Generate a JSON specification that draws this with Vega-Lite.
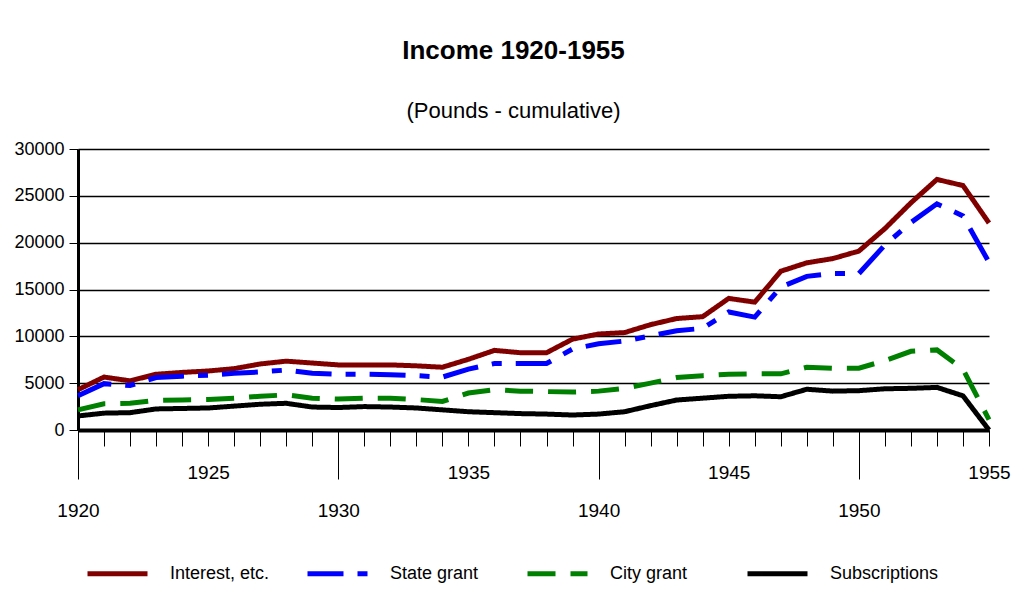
{
  "$schema": "https://vega.github.io/schema/vega-lite/v6.json",
  "width": 911,
  "height": 281,
  "padding": {"left": 13, "top": 38, "right": 20, "bottom": 5},
  "background": "white",
  "title": {
    "text": "Income 1920-1955",
    "subtitle": "(Pounds - cumulative)",
    "font": "Liberation Sans, Arial, sans-serif",
    "fontSize": 26,
    "fontWeight": "bold",
    "subtitleFont": "Liberation Sans, Arial, sans-serif",
    "subtitleFontSize": 22,
    "subtitleColor": "black",
    "subtitlePadding": 37,
    "color": "black",
    "anchor": "middle",
    "dx": -20,
    "offset": 18
  },
  "data": {
    "values": [
      {"year":1920,"series":"Interest, etc.","value":4300},{"year":1921,"series":"Interest, etc.","value":5650},{"year":1922,"series":"Interest, etc.","value":5250},{"year":1923,"series":"Interest, etc.","value":5950},{"year":1924,"series":"Interest, etc.","value":6150},{"year":1925,"series":"Interest, etc.","value":6300},{"year":1926,"series":"Interest, etc.","value":6550},{"year":1927,"series":"Interest, etc.","value":7050},{"year":1928,"series":"Interest, etc.","value":7350},{"year":1929,"series":"Interest, etc.","value":7150},{"year":1930,"series":"Interest, etc.","value":6950},{"year":1931,"series":"Interest, etc.","value":6950},{"year":1932,"series":"Interest, etc.","value":6950},{"year":1933,"series":"Interest, etc.","value":6850},{"year":1934,"series":"Interest, etc.","value":6700},{"year":1935,"series":"Interest, etc.","value":7550},{"year":1936,"series":"Interest, etc.","value":8500},{"year":1937,"series":"Interest, etc.","value":8250},{"year":1938,"series":"Interest, etc.","value":8250},{"year":1939,"series":"Interest, etc.","value":9700},{"year":1940,"series":"Interest, etc.","value":10250},{"year":1941,"series":"Interest, etc.","value":10400},{"year":1942,"series":"Interest, etc.","value":11250},{"year":1943,"series":"Interest, etc.","value":11900},{"year":1944,"series":"Interest, etc.","value":12100},{"year":1945,"series":"Interest, etc.","value":14050},{"year":1946,"series":"Interest, etc.","value":13650},{"year":1947,"series":"Interest, etc.","value":16950},{"year":1948,"series":"Interest, etc.","value":17850},{"year":1949,"series":"Interest, etc.","value":18300},{"year":1950,"series":"Interest, etc.","value":19100},{"year":1951,"series":"Interest, etc.","value":21500},{"year":1952,"series":"Interest, etc.","value":24250},{"year":1953,"series":"Interest, etc.","value":26750},{"year":1954,"series":"Interest, etc.","value":26100},{"year":1955,"series":"Interest, etc.","value":22100},
      {"year":1920,"series":"State grant","value":3650},{"year":1921,"series":"State grant","value":4950},{"year":1922,"series":"State grant","value":4750},{"year":1923,"series":"State grant","value":5600},{"year":1924,"series":"State grant","value":5750},{"year":1925,"series":"State grant","value":5850},{"year":1926,"series":"State grant","value":6050},{"year":1927,"series":"State grant","value":6200},{"year":1928,"series":"State grant","value":6400},{"year":1929,"series":"State grant","value":6050},{"year":1930,"series":"State grant","value":5950},{"year":1931,"series":"State grant","value":5950},{"year":1932,"series":"State grant","value":5900},{"year":1933,"series":"State grant","value":5800},{"year":1934,"series":"State grant","value":5650},{"year":1935,"series":"State grant","value":6500},{"year":1936,"series":"State grant","value":7100},{"year":1937,"series":"State grant","value":7100},{"year":1938,"series":"State grant","value":7100},{"year":1939,"series":"State grant","value":8650},{"year":1940,"series":"State grant","value":9200},{"year":1941,"series":"State grant","value":9500},{"year":1942,"series":"State grant","value":10050},{"year":1943,"series":"State grant","value":10600},{"year":1944,"series":"State grant","value":10850},{"year":1945,"series":"State grant","value":12600},{"year":1946,"series":"State grant","value":12050},{"year":1947,"series":"State grant","value":15250},{"year":1948,"series":"State grant","value":16400},{"year":1949,"series":"State grant","value":16700},{"year":1950,"series":"State grant","value":16700},{"year":1951,"series":"State grant","value":19750},{"year":1952,"series":"State grant","value":22150},{"year":1953,"series":"State grant","value":24150},{"year":1954,"series":"State grant","value":22850},{"year":1955,"series":"State grant","value":17900},
      {"year":1920,"series":"City grant","value":2150},{"year":1921,"series":"City grant","value":2800},{"year":1922,"series":"City grant","value":2850},{"year":1923,"series":"City grant","value":3150},{"year":1924,"series":"City grant","value":3200},{"year":1925,"series":"City grant","value":3250},{"year":1926,"series":"City grant","value":3400},{"year":1927,"series":"City grant","value":3600},{"year":1928,"series":"City grant","value":3750},{"year":1929,"series":"City grant","value":3400},{"year":1930,"series":"City grant","value":3300},{"year":1931,"series":"City grant","value":3400},{"year":1932,"series":"City grant","value":3400},{"year":1933,"series":"City grant","value":3250},{"year":1934,"series":"City grant","value":3050},{"year":1935,"series":"City grant","value":3950},{"year":1936,"series":"City grant","value":4300},{"year":1937,"series":"City grant","value":4150},{"year":1938,"series":"City grant","value":4100},{"year":1939,"series":"City grant","value":4050},{"year":1940,"series":"City grant","value":4150},{"year":1941,"series":"City grant","value":4450},{"year":1942,"series":"City grant","value":5000},{"year":1943,"series":"City grant","value":5600},{"year":1944,"series":"City grant","value":5800},{"year":1945,"series":"City grant","value":5950},{"year":1946,"series":"City grant","value":6000},{"year":1947,"series":"City grant","value":6000},{"year":1948,"series":"City grant","value":6700},{"year":1949,"series":"City grant","value":6600},{"year":1950,"series":"City grant","value":6600},{"year":1951,"series":"City grant","value":7400},{"year":1952,"series":"City grant","value":8400},{"year":1953,"series":"City grant","value":8550},{"year":1954,"series":"City grant","value":6500},{"year":1955,"series":"City grant","value":1100},
      {"year":1920,"series":"Subscriptions","value":1500},{"year":1921,"series":"Subscriptions","value":1800},{"year":1922,"series":"Subscriptions","value":1850},{"year":1923,"series":"Subscriptions","value":2250},{"year":1924,"series":"Subscriptions","value":2300},{"year":1925,"series":"Subscriptions","value":2350},{"year":1926,"series":"Subscriptions","value":2550},{"year":1927,"series":"Subscriptions","value":2750},{"year":1928,"series":"Subscriptions","value":2850},{"year":1929,"series":"Subscriptions","value":2450},{"year":1930,"series":"Subscriptions","value":2400},{"year":1931,"series":"Subscriptions","value":2500},{"year":1932,"series":"Subscriptions","value":2450},{"year":1933,"series":"Subscriptions","value":2350},{"year":1934,"series":"Subscriptions","value":2150},{"year":1935,"series":"Subscriptions","value":1950},{"year":1936,"series":"Subscriptions","value":1850},{"year":1937,"series":"Subscriptions","value":1750},{"year":1938,"series":"Subscriptions","value":1700},{"year":1939,"series":"Subscriptions","value":1600},{"year":1940,"series":"Subscriptions","value":1700},{"year":1941,"series":"Subscriptions","value":1950},{"year":1942,"series":"Subscriptions","value":2600},{"year":1943,"series":"Subscriptions","value":3200},{"year":1944,"series":"Subscriptions","value":3400},{"year":1945,"series":"Subscriptions","value":3600},{"year":1946,"series":"Subscriptions","value":3650},{"year":1947,"series":"Subscriptions","value":3550},{"year":1948,"series":"Subscriptions","value":4350},{"year":1949,"series":"Subscriptions","value":4150},{"year":1950,"series":"Subscriptions","value":4200},{"year":1951,"series":"Subscriptions","value":4400},{"year":1952,"series":"Subscriptions","value":4450},{"year":1953,"series":"Subscriptions","value":4550},{"year":1954,"series":"Subscriptions","value":3650},{"year":1955,"series":"Subscriptions","value":0}
    ]
  },
  "mark": {"type": "line", "strokeWidth": 5, "strokeCap": "butt", "strokeJoin": "miter", "clip": false},
  "encoding": {
    "x": {
      "field": "year",
      "type": "quantitative",
      "scale": {"domain": [1920, 1955], "nice": false, "zero": false},
      "axis": {
        "title": null,
        "values": [1920,1921,1922,1923,1924,1925,1926,1927,1928,1929,1930,1931,1932,1933,1934,1935,1936,1937,1938,1939,1940,1941,1942,1943,1944,1945,1946,1947,1948,1949,1950,1951,1952,1953,1954,1955],
        "format": "d",
        "labelExpr": "datum.value % 5 === 0 ? datum.label : ''",
        "labelOverlap": false,
        "labelFlush": false,
        "labelFont": "Liberation Sans, Arial, sans-serif",
        "labelFontSize": 19,
        "labelColor": "black",
        "labelPadding": {"condition": {"test": "datum.value % 10 === 0", "value": 22}, "value": 17},
        "tickSize": {"condition": {"test": "datum.value % 10 === 0", "value": 49}, "value": 16},
        "tickColor": "black",
        "tickWidth": 1,
        "domainColor": "black",
        "domainWidth": 4,
        "grid": false
      }
    },
    "y": {
      "field": "value",
      "type": "quantitative",
      "scale": {"domain": [0, 30000], "nice": false},
      "axis": {
        "title": null,
        "values": [0, 5000, 10000, 15000, 20000, 25000, 30000],
        "format": "d",
        "labelFont": "Liberation Sans, Arial, sans-serif",
        "labelFontSize": 18,
        "labelColor": "black",
        "labelPadding": 5,
        "tickSize": 9,
        "tickColor": "black",
        "tickWidth": 1,
        "domainColor": "black",
        "domainWidth": 3,
        "grid": true,
        "gridColor": "black",
        "gridWidth": 1.5,
        "gridOpacity": 1
      }
    },
    "color": {
      "field": "series",
      "type": "nominal",
      "scale": {
        "domain": ["Interest, etc.", "State grant", "City grant", "Subscriptions"],
        "range": ["#800000", "#0000ff", "#008000", "#000000"]
      },
      "legend": {
        "title": null,
        "orient": "none",
        "legendX": 7,
        "legendY": 392,
        "direction": "horizontal",
        "columns": 4,
        "gridAlign": "all",
        "columnPadding": 18,
        "symbolType": "stroke",
        "symbolSize": 3600,
        "symbolStrokeWidth": 5,
        "labelOffset": 20,
        "labelFont": "Liberation Sans, Arial, sans-serif",
        "labelFontSize": 18,
        "labelColor": "black",
        "labelLimit": 300
      }
    },
    "strokeDash": {
      "field": "series",
      "type": "nominal",
      "scale": {
        "domain": ["Interest, etc.", "State grant", "City grant", "Subscriptions"],
        "range": [[1, 0], [36, 14, 10, 14], [28, 15], [1, 0]]
      },
      "legend": null
    }
  },
  "config": {"view": {"stroke": null}}
}
